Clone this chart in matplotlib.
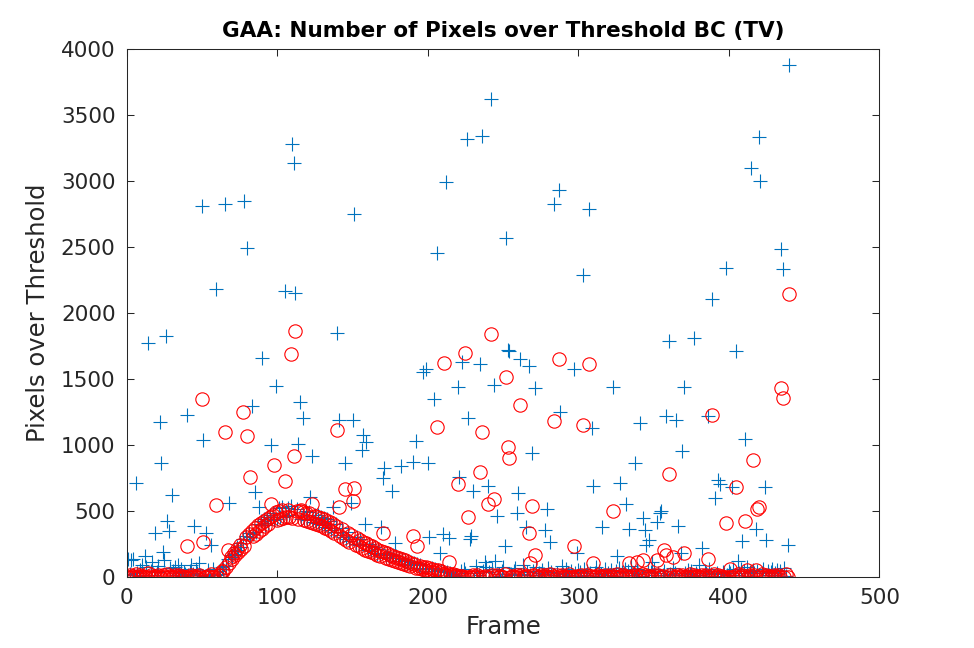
import numpy as np
import matplotlib
matplotlib.use("Agg")
import matplotlib.pyplot as plt

# ---------------- data ----------------
n_frames = 441

# red series: low baseline before the hump (frames 0-59)
red_pre = [0, 0, 10, 0, 5, 0, 20, 0, 0, 15, 0, 5, 0, 0, 25, 0, 10, 0, 0, 5,
           0, 15, 0, 0, 10, 0, 0, 20, 0, 5, 0, 0, 10, 0, 0, 15, 0, 5, 0, 0,
           20, 0, 0, 10, 0, 5, 0, 0, 15, 0, 0, 10, 0, 0, 5, 0, 20, 0, 0, 10]
# red hump, frames 60-225
red_hump = [0, 10, 8, 45, 40, 85, 70, 115, 100, 150,
            130, 180, 160, 210, 185, 240, 210, 270, 235, 300,
            260, 320, 290, 345, 305, 370, 325, 390, 345, 405,
            360, 425, 380, 440, 395, 455, 410, 470, 425, 490,
            430, 500, 440, 505, 445, 510, 448, 505, 452, 512,
            445, 505, 440, 500, 438, 495, 432, 490, 428, 485,
            420, 480, 412, 470, 405, 462, 398, 455, 390, 445,
            380, 435, 370, 425, 358, 412, 345, 400, 332, 385,
            320, 372, 306, 358, 292, 344, 278, 330, 265, 318,
            252, 305, 240, 292, 228, 278, 216, 265, 205, 252,
            195, 240, 185, 228, 175, 215, 165, 205, 156, 195,
            148, 185, 140, 175, 132, 165, 124, 155, 116, 146,
            108, 138, 100, 130, 93, 122, 86, 114, 80, 106,
            74, 98, 68, 90, 62, 83, 56, 76, 50, 70,
            44, 64, 38, 58, 33, 52, 28, 46, 23, 40,
            18, 34, 14, 28, 10, 22, 6, 16, 3, 10,
            0, 6, 0, 3, 0, 0]
# red baseline after the hump, frames 226-440
red_post = [0, 5, 0, 0, 15, 0, 0, 10, 0, 20, 0, 0, 5, 0, 10, 0, 0, 15, 0, 0,
            10, 0, 5, 0, 0, 20, 0, 0, 10, 0, 5, 0, 0, 15, 0, 0, 10, 0, 0, 5,
            0, 20, 0, 0, 10, 0, 5, 0, 0, 15, 0, 0, 10, 0, 0, 20, 0, 5, 0, 0,
            15, 0, 0, 10, 0, 5, 0, 0, 20, 0, 0, 10, 0, 5, 0, 0, 15, 0, 0, 10,
            0, 0, 5, 0, 20, 0, 0, 10, 0, 5, 0, 0, 15, 0, 0, 10, 0, 0, 5, 0,
            20, 0, 0, 10, 0, 5, 0, 0, 15, 0, 0, 10, 0, 0, 5, 0, 20, 0, 0, 10,
            0, 5, 0, 0, 15, 0, 0, 10, 0, 0, 5, 0, 20, 0, 0, 10, 0, 5, 0, 0,
            15, 0, 0, 10, 0, 0, 5, 0, 20, 0, 0, 10, 0, 5, 0, 0, 15, 0, 0, 10,
            0, 0, 5, 0, 20, 0, 0, 10, 0, 5, 0, 0, 15, 0, 0, 10, 0, 0, 5, 0,
            20, 0, 0, 10, 0, 5, 0, 0, 15, 0, 0, 10, 0, 0, 5, 0, 20, 0, 0, 10,
            0, 5, 0, 0, 15, 0, 0, 10, 0, 0, 5, 0, 20, 0, 0]
red_spike_frames = [40, 50, 51, 59, 65, 67, 77, 80, 82, 96, 98, 105, 109, 111, 112,
                    116, 123, 140, 141, 145, 150, 151, 170, 190, 193, 206, 211, 214,
                    220, 225, 227, 235, 236, 240, 242, 244, 252, 253, 254, 261, 267,
                    268, 269, 271, 284, 287, 297, 303, 307, 310, 323, 334, 339, 343,
                    352, 357, 358, 360, 363, 370, 386, 389, 398, 401, 405, 411, 412,
                    416, 418, 419, 420, 435, 436, 440]
red_spike_values = [235, 1346, 263, 546, 1096, 200, 1248, 1066, 753, 549, 845, 728, 1689, 912, 1864,
                    502, 552, 1112, 527, 662, 575, 672, 334, 311, 231, 1134, 1620, 112,
                    702, 1693, 453, 791, 1096, 549, 1840, 587, 1513, 984, 897, 1300, 328,
                    102, 535, 160, 1178, 1648, 232, 1147, 1614, 105, 494, 102, 112, 125,
                    125, 201, 163, 776, 150, 181, 130, 1222, 405, 55, 679, 418, 50,
                    883, 50, 514, 528, 1428, 1352, 2141]

# blue series: low values before the hump (frames 0-59)
blue_pre = [40, 130, 20, 125, 60, 10, 80, 30, 5, 50, 90, 15, 150, 70, 25, 0, 45, 110, 10, 60,
            35, 80, 5, 140, 20, 55, 95, 10, 30, 65, 0, 40, 75, 15, 50, 25, 60, 5, 35, 20,
            70, 10, 45, 85, 20, 0, 55, 30, 100, 15, 40, 65, 5, 25, 50, 10, 35, 60, 20, 45]
# blue hump, frames 60-225
blue_hump = [15, 45, 20, 70, 55, 100, 80, 130, 110, 160,
             150, 195, 170, 225, 200, 255, 225, 285, 250, 310,
             280, 330, 300, 355, 320, 380, 340, 400, 360, 420,
             375, 440, 390, 455, 405, 470, 420, 485, 430, 500,
             440, 520, 450, 525, 455, 530, 460, 520, 465, 535,
             455, 525, 450, 515, 445, 510, 440, 505, 435, 500,
             430, 490, 420, 480, 412, 470, 405, 465, 395, 455,
             388, 445, 375, 435, 365, 420, 352, 410, 340, 395,
             328, 380, 315, 365, 300, 352, 288, 340, 272, 325,
             262, 312, 250, 300, 238, 285, 225, 272, 212, 260,
             202, 248, 192, 235, 182, 222, 172, 212, 162, 200,
             155, 190, 146, 180, 138, 170, 130, 160, 122, 152,
             115, 142, 106, 135, 98, 126, 92, 118, 85, 110,
             78, 102, 72, 95, 66, 88, 60, 80, 54, 74,
             48, 68, 42, 62, 36, 56, 30, 50, 26, 44,
             20, 38, 16, 32, 12, 26, 8, 20, 5, 14,
             3, 20, 40, 10, 60, 30]
# blue low values after the hump, frames 226-440
blue_post = [30, 5, 60, 15, 40, 0, 80, 25, 10, 55, 20, 45, 5, 70, 15, 35, 0, 60, 25, 10,
             50, 20, 5, 40, 75, 15, 30, 0, 55, 20, 10, 45, 65, 5, 25, 40, 10, 85, 20, 0,
             35, 60, 15, 5, 45, 25, 70, 10, 30, 0, 50, 20, 40, 5, 65, 15, 35, 10, 55, 0,
             25, 45, 10, 80, 20, 5, 60, 30, 15, 40, 0, 70, 25, 10, 50, 35, 5, 20, 60, 15,
             40, 0, 30, 55, 10, 25, 75, 5, 45, 20, 35, 0, 60, 15, 30, 10, 50, 25, 5, 40,
             20, 65, 10, 35, 0, 55, 25, 45, 5, 80, 15, 30, 10, 60, 20, 40, 5, 70, 25, 15,
             50, 0, 35, 20, 60, 10, 45, 30, 5, 75, 15, 40, 25, 0, 55, 20, 10, 65, 30, 5,
             45, 15, 35, 60, 10, 25, 0, 50, 20, 40, 5, 70, 30, 10, 55, 15, 35, 0, 45, 25,
             10, 60, 20, 40, 5, 75, 30, 15, 50, 0, 35, 20, 65, 10, 45, 25, 5, 55, 15, 40,
             0, 30, 60, 10, 45, 20, 70, 5, 35, 15, 50, 25, 0, 40, 65, 10, 30, 55, 20, 5,
             45, 15, 35, 60, 10, 25, 50, 0, 40, 20, 30, 65, 5, 15, 45]
blue_spike_frames = [3, 4, 6, 12, 14, 19, 22, 23, 24, 25, 26, 27, 28, 30, 34, 40, 45, 50, 51,
                     53, 56, 59, 65, 68, 78, 80, 83, 85, 88, 90, 96, 99, 105, 110, 111, 112,
                     114, 115, 117, 122, 123, 137, 140, 141, 145, 149, 150, 151, 156, 157,
                     158, 159, 169, 170, 171, 176, 178, 182, 190, 192, 197, 199, 200, 201,
                     204, 206, 208, 210, 212, 214, 220, 221, 223, 226, 227, 228, 229, 230,
                     235, 236, 238, 240, 242, 244, 245, 246, 251, 252, 253, 254, 259, 260,
                     261, 265, 267, 269, 271, 278, 279, 281, 284, 287, 288, 297, 299, 303,
                     307, 309, 310, 316, 323, 326, 328, 332, 334, 338, 341, 343, 344, 345,
                     347, 349, 352, 354, 355, 358, 360, 365, 366, 368, 369, 370, 377, 380,
                     382, 386, 389, 391, 393, 394, 398, 402, 405, 406, 409, 411, 415, 418,
                     420, 421, 424, 425, 435, 436, 439, 440]
blue_spike_values = [125, 135, 706, 155, 1768, 330, 1176, 863, 184, 125, 1827, 420, 345, 622, 87, 1225, 382, 2810, 1033,
                     331, 236, 2183, 2828, 555, 2850, 2494, 1292, 643, 530, 1658, 998, 1445, 2170, 3280, 3140, 2154,
                     1008, 1322, 1205, 600, 914, 525, 1847, 1188, 864, 555, 1190, 2748, 958, 1070,
                     398, 1020, 378, 745, 825, 646, 252, 835, 866, 1030, 1550, 1575, 860, 300,
                     1347, 2455, 176, 322, 2990, 290, 1440, 753, 1625, 3322, 1200, 282, 307, 649,
                     1612, 3342, 108, 688, 3621, 1450, 120, 459, 231, 2568, 1722, 1712, 479, 636,
                     1650, 376, 1600, 935, 1428, 350, 510, 264, 2826, 2932, 1250, 1572, 180, 2288,
                     2790, 1124, 690, 378, 1440, 155, 707, 550, 358, 864, 1162, 444, 350, 240,
                     277, 112, 410, 484, 500, 1220, 1787, 1188, 380, 176, 955, 1440, 1812, 87,
                     214, 1220, 2103, 593, 732, 700, 2343, 677, 1711, 118, 269, 1046, 3100, 360,
                     3337, 3001, 681, 277, 2483, 2333, 239, 3881]

x_ticks = [0, 100, 200, 300, 400, 500]
y_ticks = [0, 500, 1000, 1500, 2000, 2500, 3000, 3500, 4000]
title_text = "GAA: Number of Pixels over Threshold BC (TV)"
x_label = "Frame"
y_label = "Pixels over Threshold"

# ---------------- assemble series ----------------
frames = np.arange(n_frames)
red = np.array(red_pre + red_hump + red_post, dtype=float)
red[red_spike_frames] = red_spike_values
blue = np.array(blue_pre + blue_hump + blue_post, dtype=float)
blue[blue_spike_frames] = blue_spike_values

# ---------------- plot ----------------
plt.rcParams['font.family'] = ['DejaVu Sans']
fig = plt.figure(figsize=(9.74, 6.48), dpi=100)
ax = fig.add_axes([0.1301, 0.1103, 0.7727, 0.8136])

ax.plot(frames, blue, linestyle='none', marker='+', color='#0072BD',
        markersize=10.3, markeredgewidth=0.8)
ax.plot(frames, red, linestyle='none', marker='o', color='#FF0000',
        markerfacecolor='none', markersize=9.6, markeredgewidth=0.8)

ax.set_xlim(0, 500)
ax.set_ylim(0, 4000)
ax.set_xticks(x_ticks)
ax.set_yticks(y_ticks)
ax.tick_params(direction='in', length=4.8, width=0.75, top=True, right=True,
               labelsize=15.5, colors='#262626', pad=8)
for s in ax.spines.values():
    s.set_color('#262626')
    s.set_linewidth(0.75)
ax.set_title(title_text, fontsize=15.5, fontweight='bold', color='black', pad=9)
ax.set_xlabel(x_label, fontsize=17.5, color='#262626', labelpad=5)
ax.set_ylabel(y_label, fontsize=17.5, color='#262626', labelpad=8)

fig.savefig("out.png", dpi=100)
